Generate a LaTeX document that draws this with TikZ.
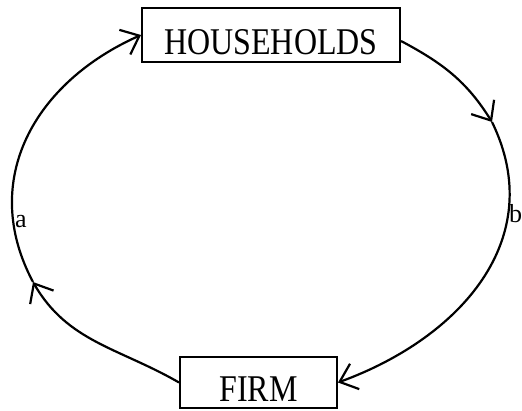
\documentclass[tikz,border=0pt]{standalone}
\usepackage{fontspec}
\setmainfont{Liberation Serif}
\usetikzlibrary{arrows.meta}
\tikzset{
	sector/.style={draw, line width=2pt, inner sep=0pt, anchor=base, font=\fontsize{32}{36}\selectfont},
	flow/.style={line width=2.2pt, -{Straight Barb[length=16pt,width=27pt,line width=2.2pt]}},
	tag/.style={inner sep=0pt, anchor=base west, font=\fontsize{26}{30}\selectfont}
}

\begin{document}
\begin{tikzpicture}[x=1pt,y=1pt]
	\useasboundingbox (0,0) rectangle (522,411);
	\node[sector, minimum width=258pt, text height=47pt, text depth=7pt] (hh) at (271,356) {\scalebox{1}[1.18]{HOUSEHOLDS}};
	\node[sector, minimum width=157pt, text height=45pt, text depth=6pt] (firm) at (258.5,9) {\scalebox{1}[1.18]{FIRM}};
	\coordinate (la) at (33,129);
	\coordinate (rb) at (492,289);
	\draw[flow] (firm.west) to[out=150,in=-60] (la);
	\draw[flow] (la) to[out=118,in=204,looseness=1.1] (hh.west);
	\draw[flow] ([yshift=-6pt]hh.east) to[out=-28,in=122] (rb);
	\draw[flow] (rb) to[out=-64,in=20,looseness=1.1] (firm.east);
	\node[tag] (a) at (15,183) {a};
	\node[tag] (b) at (509,188) {b};
\end{tikzpicture}
\end{document}
